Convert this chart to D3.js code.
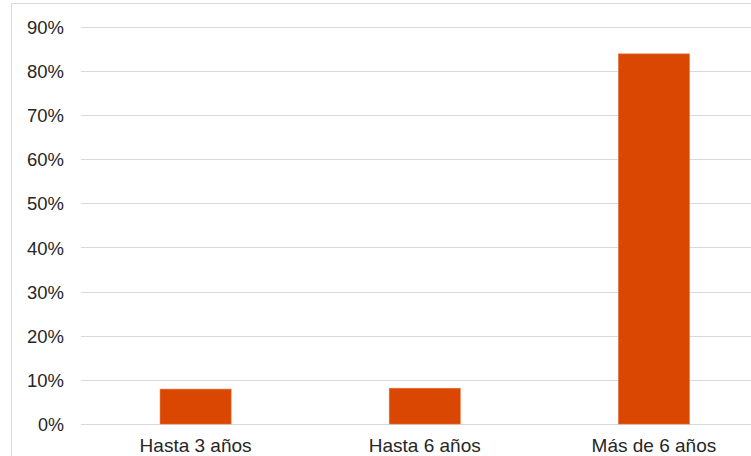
<!DOCTYPE html>
<html><head><meta charset="utf-8">
<script src="https://cdn.jsdelivr.net/npm/d3@7"></script>
<style>html,body{margin:0;padding:0;background:#fff;overflow:hidden}</style>
</head><body>
<svg id="c" width="751" height="456"></svg>
<script>
const categories = ["Hasta 3 años", "Hasta 6 años", "Más de 6 años"];
const values = [0.079, 0.081, 0.838];
const yTicks = [0, 0.1, 0.2, 0.3, 0.4, 0.5, 0.6, 0.7, 0.8, 0.9];

const svg = d3.select("#c");
const font = "Liberation Sans, Arial, sans-serif";

// outer frame (chart area border, partially visible)
svg.append("path").attr("d", "M11.5,456 L11.5,3.5 L751,3.5")
  .attr("fill", "none").attr("stroke", "#d9d9d9").attr("stroke-width", 1);

const x = d3.scaleBand().domain(categories).range([81, 768.5]).paddingInner(0.69).paddingOuter(0.345);
const y = d3.scaleLinear().domain([0, 0.9]).range([424, 26.5]);

// gridlines
svg.append("g").selectAll("line").data(yTicks).join("line")
  .attr("x1", 81).attr("x2", 751)
  .attr("y1", d => Math.round(y(d)) + 0.5).attr("y2", d => Math.round(y(d)) + 0.5)
  .attr("stroke", "#d9d9d9").attr("stroke-width", 1);

// y axis labels
const yAxis = d3.axisLeft(y).tickValues(yTicks).tickFormat(d3.format(".0%")).tickSize(0).tickPadding(0);
const gy = svg.append("g").attr("transform", "translate(64,0)").call(yAxis);
gy.select(".domain").remove();
gy.selectAll("text").attr("font-family", font).attr("font-size", 18.5).attr("fill", "#262626").attr("dy", "0.36em")
  .attr("textLength", 37).attr("lengthAdjust", "spacingAndGlyphs");
gy.selectAll(".tick").filter(d => d === 0).select("text").attr("textLength", 26);

// bars
svg.append("g").selectAll("rect").data(values).join("rect")
  .attr("x", (d, i) => x(categories[i]))
  .attr("width", x.bandwidth())
  .attr("y", d => y(d))
  .attr("height", d => y(0) - y(d))
  .attr("fill", "#d94703")
  .attr("stroke", "#e4713a").attr("stroke-width", 0.6);

// x axis labels
const xAxis = d3.axisBottom(x).tickSize(0).tickPadding(0);
const gx = svg.append("g").attr("transform", "translate(0,438)").call(xAxis);
gx.select(".domain").remove();
gx.selectAll("text").attr("font-family", font).attr("font-size", 19).attr("fill", "#262626").attr("dy", "0.71em");
</script>
</body></html>
